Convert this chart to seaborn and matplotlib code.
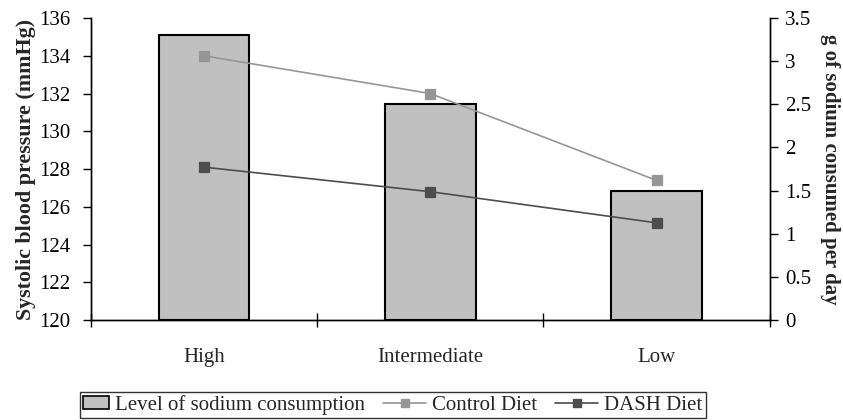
import matplotlib
matplotlib.use("Agg")
import matplotlib.pyplot as plt
import seaborn as sns
import pandas as pd
from matplotlib.patches import Patch
from matplotlib.lines import Line2D
from matplotlib.legend_handler import HandlerBase

sns.set_theme(style="white")
plt.rcParams["font.family"] = ["Liberation Serif", "DejaVu Serif"]

categories = ["High", "Intermediate", "Low"]
sodium_g = [3.3, 2.5, 1.5]
control_sbp = [134.0, 132.0, 127.4]
dash_sbp = [128.1, 126.8, 125.15]

bar_color = "#c0c0c0"
control_color = "#969696"
dash_color = "#4d4d4d"
fs = 15
legend_fs = 15
msize = 7

fig = plt.figure(figsize=(8.43, 4.2), dpi=100)
ax_bar = fig.add_axes([0.108, 0.238, 0.805, 0.719])
ax_line = ax_bar.twinx()

# sodium bars on the right-hand scale
bars = pd.DataFrame({"level": categories, "sodium": sodium_g})
sns.barplot(data=bars, x="level", y="sodium", order=categories, color=bar_color,
            width=0.4, edgecolor="black", linewidth=1.5, saturation=1, ax=ax_bar)
ax_bar.set_ylim(0, 3.5)
ax_bar.set_yticks([0, 0.5, 1, 1.5, 2, 2.5, 3, 3.5])
ax_bar.set_yticklabels(["0", "0.5", "1", "1.5", "2", "2.5", "3", "3.5"])
ax_bar.yaxis.tick_right()
ax_bar.yaxis.set_label_position("right")
ax_bar.set_ylabel("g of sodium consumed per day", fontsize=15, fontweight="bold",
                  rotation=270, labelpad=21)
ax_bar.set_xlabel("")

# blood pressure lines on the left-hand scale
lines = pd.DataFrame({
    "level": categories * 2,
    "sbp": control_sbp + dash_sbp,
    "diet": ["Control Diet"] * 3 + ["DASH Diet"] * 3,
})
for diet, col in [("Control Diet", control_color), ("DASH Diet", dash_color)]:
    sub = lines[lines["diet"] == diet]
    sns.pointplot(data=sub, x="level", y="sbp", order=categories, color=col,
                  markers="s", markersize=msize, linewidth=1.2, ax=ax_line)
ax_line.set_ylim(120, 136)
ax_line.set_yticks(range(120, 137, 2))
ax_line.yaxis.tick_left()
ax_line.yaxis.set_label_position("left")
ax_line.set_ylabel("Systolic blood pressure (mmHg)", fontsize=15.8, fontweight="bold",
                   labelpad=2)
ax_line.set_xlabel("")

for ax in (ax_bar, ax_line):
    ax.set_xlim(-0.5, 2.5)
    ax.spines["top"].set_visible(False)
    for s in ("left", "right", "bottom"):
        ax.spines[s].set_color("black")
        ax.spines[s].set_linewidth(1.0)
    ax.tick_params(axis="y", labelsize=fs, length=6, width=1.0, colors="black",
                   direction="out")
    ax.grid(False)

ax_line.tick_params(axis="y", which="both", left=True, right=False,
                    labelleft=True, labelright=False, pad=9)
ax_bar.tick_params(axis="y", which="both", left=False, right=True,
                   labelleft=False, labelright=True, pad=5)

# category labels between boundary ticks on the x axis
ax_bar.set_xticks([-0.5, 0.5, 1.5, 2.5], minor=False)
ax_bar.set_xticklabels([])
ax_bar.set_xticks([0, 1, 2], minor=True)
ax_bar.set_xticklabels(categories, minor=True)
ax_bar.tick_params(axis="x", which="major", direction="inout", length=10,
                   width=1.0, colors="black", bottom=True)
ax_bar.tick_params(axis="x", which="minor", length=0, pad=20, labelsize=fs,
                   bottom=True)
ax_line.tick_params(axis="x", which="both", bottom=False, labelbottom=False)


class LineMarkerHandler(HandlerBase):
    """Legend key: a line reaching left past the compact handle box, marker centred."""

    def __init__(self, extend=0.65, **kw):
        super().__init__(**kw)
        self.extend = extend

    def create_artists(self, legend, orig_handle, xdescent, ydescent,
                       width, height, fontsize, trans):
        x1 = -xdescent + width
        x0 = x1 - width * (1 + self.extend)
        y = height / 2 - ydescent
        line = Line2D([x0, x1], [y, y], color=orig_handle.get_color(),
                      linewidth=orig_handle.get_linewidth())
        mark = Line2D([(x0 + x1) / 2], [y], linestyle="none", marker="s",
                      markersize=orig_handle.get_markersize(),
                      color=orig_handle.get_color())
        line.set_transform(trans)
        mark.set_transform(trans)
        return [line, mark]


handles = [
    Patch(facecolor=bar_color, edgecolor="black", linewidth=1.2,
          label="Level of sodium consumption"),
    Line2D([0], [0], color=control_color, marker="s", markersize=msize - 1,
           linewidth=1.2, label="Control Diet"),
    Line2D([0], [0], color=dash_color, marker="s", markersize=msize - 1,
           linewidth=1.2, label="DASH Diet"),
]
leg = fig.legend(handles=handles, loc="upper left", bbox_to_anchor=(80 / 843, 1 - 392 / 420),
                 ncol=3, frameon=True, fancybox=False, fontsize=legend_fs,
                 handlelength=1.25, handleheight=0.6, handletextpad=0.29,
                 columnspacing=1.68, borderpad=0.15, borderaxespad=0,
                 edgecolor="black",
                 handler_map={Line2D: LineMarkerHandler(extend=0.65)})
leg.get_frame().set_linewidth(1.0)

fig.savefig("out.png", dpi=100)
